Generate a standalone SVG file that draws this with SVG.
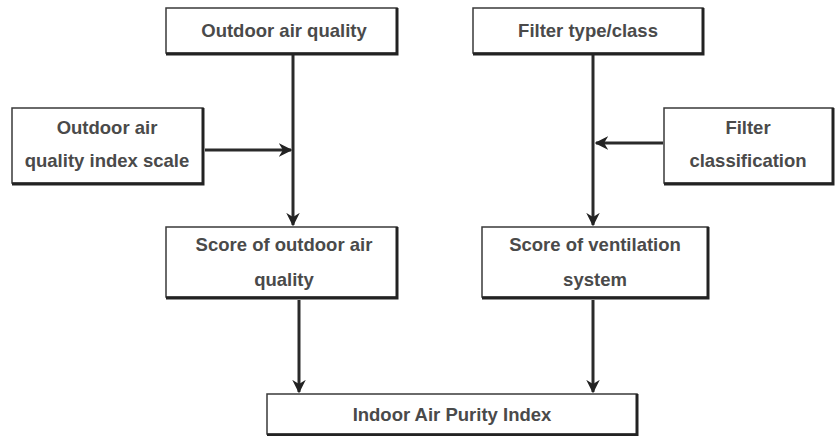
<svg xmlns="http://www.w3.org/2000/svg" width="840" height="436" viewBox="0 0 840 436">
  <style>
    .box { fill: #ffffff; stroke: #3a3a3a; stroke-width: 1.5; }
    .shadow { fill: none; stroke: #222222; stroke-width: 3; }
    .label { font-family: "Liberation Sans", Arial, sans-serif; font-size: 18.5px; font-weight: bold; fill: #4a4a4a; text-anchor: middle; }
    .edge { fill: none; stroke: #2a2a2a; stroke-width: 3; }
  </style>
  <defs>
    <marker id="arrow" viewBox="0 0 10 10" refX="9" refY="5" markerWidth="4.5" markerHeight="4.5" orient="auto" markerUnits="strokeWidth">
      <path d="M0,0 L10,5 L0,10 L3,5 Z" fill="#222222"/>
    </marker>
  </defs>

  <rect width="840" height="436" fill="#ffffff"/>

  <!-- connectors -->
  <g id="connectors">
    <line class="edge" x1="293" y1="55" x2="293" y2="225" marker-end="url(#arrow)"/>
    <line class="edge" x1="205" y1="150" x2="291" y2="150" marker-end="url(#arrow)"/>
    <line class="edge" x1="593" y1="55" x2="593" y2="225" marker-end="url(#arrow)"/>
    <line class="edge" x1="663" y1="143" x2="596" y2="143" marker-end="url(#arrow)"/>
    <line class="edge" x1="299" y1="300" x2="299" y2="392" marker-end="url(#arrow)"/>
    <line class="edge" x1="593" y1="300" x2="593" y2="392" marker-end="url(#arrow)"/>
  </g>

  <!-- nodes -->
  <g id="outdoor-air-quality">
    <rect class="box" x="166" y="8" width="231" height="45"/>
    <polyline class="shadow" points="397,8 397,54 166,54"/>
    <text class="label" x="284" y="37">Outdoor air quality</text>
  </g>

  <g id="filter-type-class">
    <rect class="box" x="473" y="8" width="230" height="45"/>
    <polyline class="shadow" points="703,8 703,54 473,54"/>
    <text class="label" x="588" y="37">Filter type/class</text>
  </g>

  <g id="outdoor-aqi-scale">
    <rect class="box" x="12" y="108" width="191" height="75"/>
    <polyline class="shadow" points="203,108 203,184 12,184"/>
    <text class="label" x="107" y="134">Outdoor air</text>
    <text class="label" x="107" y="167">quality index scale</text>
  </g>

  <g id="filter-classification">
    <rect class="box" x="664" y="108" width="169" height="75"/>
    <polyline class="shadow" points="833,108 833,184 664,184"/>
    <text class="label" x="748" y="134">Filter</text>
    <text class="label" x="748" y="167">classification</text>
  </g>

  <g id="score-outdoor-air">
    <rect class="box" x="166" y="227" width="231" height="70"/>
    <polyline class="shadow" points="397,227 397,298 166,298"/>
    <text class="label" x="284" y="251">Score of outdoor air</text>
    <text class="label" x="284" y="286">quality</text>
  </g>

  <g id="score-ventilation">
    <rect class="box" x="482" y="227" width="226" height="70"/>
    <polyline class="shadow" points="708,227 708,298 482,298"/>
    <text class="label" x="595" y="251">Score of ventilation</text>
    <text class="label" x="595" y="286">system</text>
  </g>

  <g id="indoor-air-purity-index">
    <rect class="box" x="267" y="394" width="370" height="40"/>
    <polyline class="shadow" points="637,394 637,435 267,435"/>
    <text class="label" x="452" y="421">Indoor Air Purity Index</text>
  </g>
</svg>
